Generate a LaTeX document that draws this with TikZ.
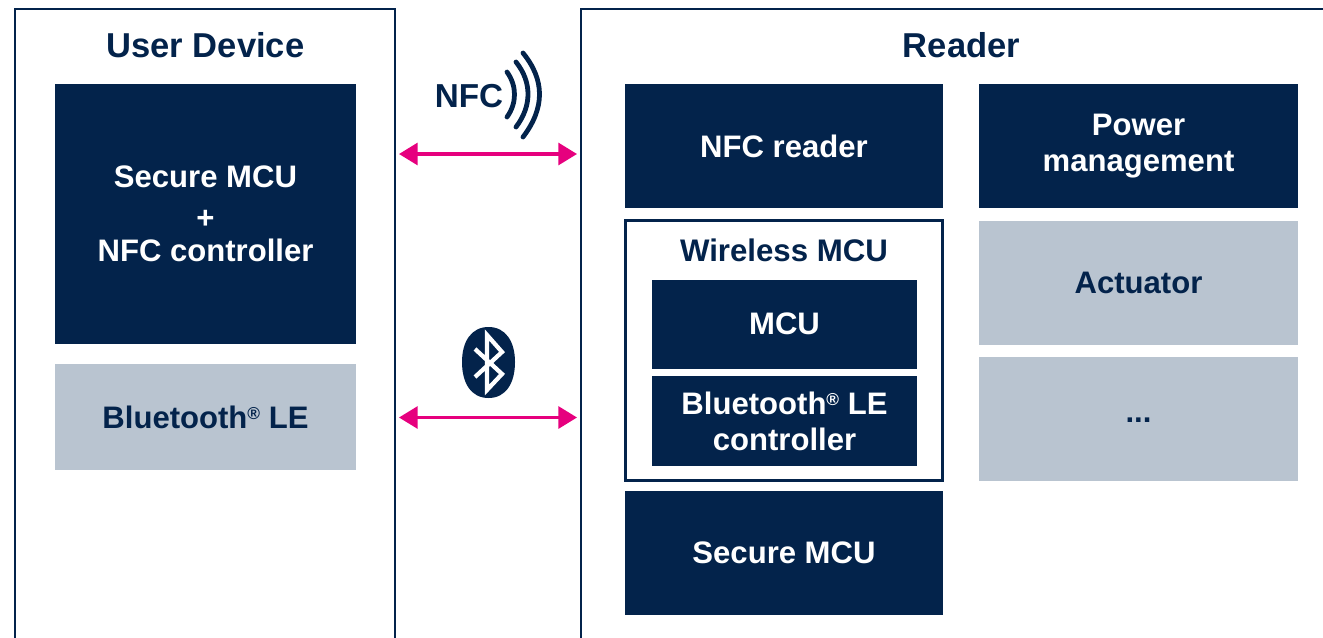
\documentclass[tikz,border=0pt]{standalone}
\usepackage{fontspec}
\setmainfont{Liberation Sans}
\definecolor{navy}{HTML}{03234B}
\definecolor{greybox}{HTML}{B9C4D0}
\definecolor{pinkarrow}{HTML}{E6007E}
\usetikzlibrary{arrows.meta}
\newcommand{\regmark}{\raisebox{6.5pt}{\fontsize{13pt}{13pt}\selectfont ®}}
\tikzset{x=0.0264583cm,y=-0.0264583cm,
 dark/.style={fill=navy,text=white,draw=none,align=center,font=\fontsize{23.4pt}{27pt}\selectfont\bfseries,anchor=center,inner sep=0pt},
 light/.style={fill=greybox,text=navy,draw=none,align=center,font=\fontsize{23.4pt}{27pt}\selectfont\bfseries,anchor=center,inner sep=0pt},
 panel/.style={draw=navy,line width=2.2pt,fill=white},
 title/.style={text=navy,font=\fontsize{26pt}{30pt}\selectfont\bfseries,inner sep=0pt},
 subtitle/.style={text=navy,font=\fontsize{23.5pt}{28pt}\selectfont\bfseries,inner sep=0pt},
 biarrow/.style={draw=pinkarrow,line width=2.3pt,{Triangle[length=14pt,width=16.5pt]}-{Triangle[length=14pt,width=16.5pt]}},
 wave/.style={draw=navy,line width=3.6pt,line cap=round},
 rune/.style={draw=white,line width=3.2pt,line join=miter}
}
\newcommand{\boxnode}[7]{\node[#1,minimum width=#4*0.75pt,minimum height=#5*0.75pt] (#2) at (#6,#7) {#3};}
\begin{document}
\begin{tikzpicture}
\useasboundingbox (0,0) rectangle (1323,637);
\fill[white] (0,0) rectangle (1323,637);
\draw[panel] (15,660) -- (15,9) -- (395,9) -- (395,660);
\draw[panel] (1340,9) -- (581,9) -- (581,660);
\node[title] (ud) at (205.5,45.5) {User Device};
\node[title] (rd) at (961.5,45.5) {Reader};
\boxnode{dark}{smcu}{Secure MCU\\[4pt]+\\[-2pt]NFC controller}{302}{261}{205.5}{214}
\boxnode{light}{ble}{Bluetooth\regmark{} LE}{302}{107}{205.5}{417}
\boxnode{dark}{nfcr}{NFC reader}{319}{125}{784}{146}
\boxnode{dark}{pm}{Power\\management}{320}{125}{1138.5}{146}
\boxnode{light}{act}{Actuator}{320}{125}{1138.5}{283}
\boxnode{light}{dots}{\raisebox{-6pt}{...}}{320}{125}{1138.5}{419}
\node[draw=navy,line width=2.3pt,fill=white,minimum width=318*0.75pt,minimum height=261*0.75pt,inner sep=0pt] (wm) at (784,350.5) {};
\node[subtitle] (wmt) at (784,250.5) {Wireless MCU};
\boxnode{dark}{mcu}{\raisebox{1.2pt}{MCU}}{266}{90}{784.5}{324.5}
\boxnode{dark}{blec}{Bluetooth\regmark{} LE\\controller}{266}{90}{784.5}{421}
\boxnode{dark}{sm}{Secure MCU}{319}{125}{784}{553}
\coordinate (a1) at (399,154); \coordinate (a2) at (577,154);
\coordinate (b1) at (399,417.5); \coordinate (b2) at (577,417.5);
\draw[biarrow] (a1) -- (a2);
\draw[biarrow] (b1) -- (b2);
\node[subtitle,font=\fontsize{25pt}{28pt}\selectfont\bfseries] (nfc) at (469,96) {NFC};
\draw[wave] (507,72) .. controls (517,86) and (517,103) .. (507,117);
\draw[wave] (516,62) .. controls (532,82) and (532,106) .. (516,127);
\draw[wave] (523,53) .. controls (545,80) and (545,108) .. (523,137);
\fill[navy] (488.5,327) .. controls (506,327) and (515,342) .. (515,362)
  .. controls (515,383) and (506,398) .. (488.5,398)
  .. controls (471,398) and (462,383) .. (462,362)
  .. controls (462,342) and (471,327) .. (488.5,327) -- cycle;
\draw[rune] (475,349) -- (502,374) -- (487,390) -- (487,335) -- (502,352) -- (475,377);
\end{tikzpicture}
\end{document}
